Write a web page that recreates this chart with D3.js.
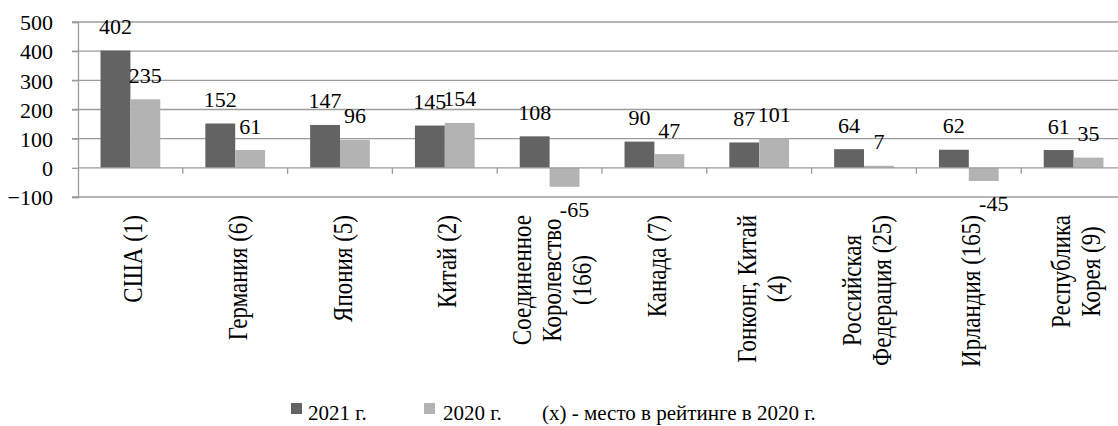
<!DOCTYPE html>
<html><head><meta charset="utf-8">
<script src="https://cdn.jsdelivr.net/npm/d3@7"></script>
<style>
html,body{margin:0;padding:0;background:#fff;}
svg{display:block;}
svg text{font-family:"Liberation Serif","Times New Roman",serif !important;fill:#000;}
</style></head>
<body>
<svg id="c" width="1118" height="426" font-family="Liberation Serif"></svg>
<script>
const categoryLines = [
  ["США  (1)"],
  ["Германия (6)"],
  ["Япония (5)"],
  ["Китай  (2)"],
  ["Соединенное", "Королевство", "(166)"],
  ["Канада  (7)"],
  ["Гонконг, Китай", "(4)"],
  ["Российская", "Федерация (25)"],
  ["Ирландия  (165)"],
  ["Республика", "Корея (9)"]
];
const categories = categoryLines.map(l => l.join(" "));
const values2021 = [402, 152, 147, 145, 108, 90, 87, 64, 62, 61];
const values2020 = [235, 61, 96, 154, -65, 47, 101, 7, -45, 35];
const yTicks = [-100, 0, 100, 200, 300, 400, 500];
const seriesNames = ["2021  г.", "2020  г."];
const legendNote = "(x)  - место в рейтинге в 2020  г.";

const FONT = '"Liberation Serif","Times New Roman",serif';
const svg = d3.select("#c");
const mLeft = 78, mRight = 1126, mTop = 22, mBottom = 197;
const colors = ["#636363", "#b3b3b3"];
const gridColor = "#9c9c9c";

const x = d3.scaleBand().domain(categories).range([mLeft, mRight]).paddingInner(0.43).paddingOuter(0.215);
const xs = d3.scaleBand().domain([0, 1]).range([0, x.bandwidth()]);
const y = d3.scaleLinear().domain([-100, 500]).range([mBottom, mTop]);

// gridlines
svg.append("g").selectAll("line").data(yTicks.filter(t => t !== 0)).join("line")
  .attr("x1", mLeft - 6).attr("x2", mRight).attr("y1", d => y(d)).attr("y2", d => y(d))
  .attr("stroke", gridColor).attr("stroke-width", 1.3);

// y axis
const yAxis = d3.axisLeft(y).tickValues(yTicks).tickSize(6).tickFormat(d3.format("d"));
const gy = svg.append("g").attr("transform", `translate(${mLeft},0)`).call(yAxis)
  .attr("font-family", FONT).attr("font-size", 22);
gy.select(".domain").attr("stroke", gridColor).attr("stroke-width", 1.3);
gy.selectAll(".tick line").attr("stroke", gridColor).attr("stroke-width", 1.3);
gy.selectAll(".tick text").attr("x", -25).attr("fill", "#000").attr("dy", "0.35em")
  .style("font-family", FONT).style("font-size", "22px");

// bars
const series = [values2021, values2020];
const data = [];
categories.forEach((c, i) => series.forEach((s, k) => data.push({c, k, v: s[i]})));
svg.append("g").selectAll("rect").data(data).join("rect")
  .attr("x", d => x(d.c) + xs(d.k))
  .attr("width", xs.bandwidth())
  .attr("y", d => y(Math.max(0, d.v)))
  .attr("height", d => Math.abs(y(d.v) - y(0)))
  .attr("fill", d => colors[d.k]);

// x axis at 0
const xAxisG = svg.append("g");
xAxisG.append("line").attr("x1", mLeft).attr("x2", mRight).attr("y1", y(0)).attr("y2", y(0))
  .attr("stroke", gridColor).attr("stroke-width", 1.3);
xAxisG.selectAll("line.tk").data(categories.slice(1)).join("line").attr("class", "tk")
  .attr("x1", d => x(d) - x.step() * x.paddingInner() / 2).attr("x2", d => x(d) - x.step() * x.paddingInner() / 2)
  .attr("y1", y(0)).attr("y2", y(0) + 6)
  .attr("stroke", gridColor).attr("stroke-width", 1.3);

// data labels
svg.append("g").selectAll("text").data(data).join("text")
  .attr("x", d => x(d.c) + xs(d.k) + xs.bandwidth() / 2 + (d.v < 0 ? 10 : 0))
  .attr("y", d => d.v >= 0 ? y(d.v) - 16.5 : y(d.v) + 30)
  .attr("text-anchor", "middle")
  .style("font-family", FONT).style("font-size", "22px")
  .text(d => d.v);

// category labels (rotated)
const labTop = 215, lineGap = 25, sx = 1.2;
const cg = svg.append("g");
categoryLines.forEach((lines, i) => {
  const cx = x(categories[i]) + x.bandwidth() / 2 + 2;
  const g = cg.append("g");
  const texts = g.selectAll("text").data(lines).join("text")
    .style("font-family", FONT).style("font-size", "23px")
    .attr("text-anchor", "middle").text(d => d);
  let maxLen = 0;
  texts.each(function () { maxLen = Math.max(maxLen, this.getComputedTextLength()); });
  const cy = labTop + maxLen / 2;
  g.attr("transform", `translate(${cx},${cy}) scale(${sx},1) rotate(-90)`);
  texts.attr("x", 0).attr("y", (d, j) => (j - (lines.length - 1) / 2) * lineGap).attr("dy", "0.35em");
});

// legend
const lg = svg.append("g");
const legendItems = [
  {sq: 291, tx: 308, color: colors[0], text: seriesNames[0]},
  {sq: 424, tx: 443, color: colors[1], text: seriesNames[1]}
];
legendItems.forEach(it => {
  lg.append("rect").attr("x", it.sq).attr("y", 403).attr("width", 11).attr("height", 11).attr("fill", it.color);
  lg.append("text").attr("x", it.tx).attr("y", 420)
    .style("font-family", FONT).style("font-size", "21px").text(it.text);
});
lg.append("text").attr("x", 542).attr("y", 420)
  .style("font-family", FONT).style("font-size", "21px").text(legendNote);
</script>
</body></html>
